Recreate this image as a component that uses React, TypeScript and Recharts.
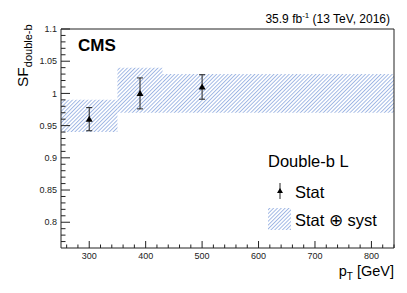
import { ComposedChart, XAxis, YAxis, Scatter, ErrorBar, ReferenceArea, ReferenceLine } from "recharts";

// pT bins with stat+syst bands
const binLow = [250, 350, 430];
const binHigh = [350, 430, 840];
const bandLow = [0.94, 0.97, 0.97];
const bandHigh = [0.99, 1.04, 1.03];

// measured SF points with stat errors
const ptX = [300, 390, 500];
const ptY = [0.96, 1.0, 1.01];
const ptErr = [0.018, 0.024, 0.019];

const xMajor = [300, 400, 500, 600, 700, 800];
const yMajor = [0.8, 0.85, 0.9, 0.95, 1, 1.05, 1.1];

const xTicks: number[] = [];
for (let v = 260; v <= 840; v += 20) xTicks.push(v);
const yTicks: number[] = [];
for (let i = 77; i <= 110; i++) yTicks.push(i / 100);

const points = ptX.map((x, i) => ({ x, y: ptY[i], err: ptErr[i] }));

const FONT = "'Liberation Sans', Arial, Helvetica, sans-serif";
const HATCH = "#98b1e2";
const INK = "#222";

function XTick(props: any) {
  const { x, y, payload } = props;
  const major = xMajor.includes(payload.value);
  return (
    <g>
      <line x1={x} x2={x} y1={y} y2={y - (major ? 7 : 3.5)} stroke={INK} strokeWidth={1} />
      {major && (
        <text x={x} y={y + 11} textAnchor="middle" fontSize={9} fill={INK} fontFamily={FONT}>
          {payload.value}
        </text>
      )}
    </g>
  );
}

function YTick(props: any) {
  const { x, y, payload } = props;
  const major = yMajor.some((m) => Math.abs(m - payload.value) < 1e-6);
  return (
    <g>
      <line x1={x} x2={x + (major ? 9 : 4.5)} y1={y} y2={y} stroke={INK} strokeWidth={1} />
      {major && (
        <text x={x - 4} y={y} dy="0.35em" textAnchor="end" fontSize={9} fill={INK} fontFamily={FONT}>
          {Math.round(payload.value * 100) / 100}
        </text>
      )}
    </g>
  );
}

function Triangle(props: any) {
  const { cx, cy } = props;
  return <polygon points={`${cx},${cy - 3.5} ${cx - 3.5},${cy + 2.5} ${cx + 3.5},${cy + 2.5}`} fill="#000" />;
}

export default function App() {
  return (
    <div style={{ position: "absolute", left: 0, top: 0, width: 407, height: 293, background: "#fff" }}>
      <ComposedChart width={407} height={293} margin={{ top: 29, right: 13, bottom: 0, left: 0 }}>
        <defs>
          <pattern id="hatch" width="2.7" height="2.7" patternUnits="userSpaceOnUse" patternTransform="rotate(45)">
            <line x1="0.5" y1="0" x2="0.5" y2="2.7" stroke={HATCH} strokeWidth={0.9} />
          </pattern>
        </defs>
        <XAxis
          dataKey="x"
          type="number"
          domain={[250, 840]}
          allowDataOverflow
          ticks={xTicks}
          interval={0}
          height={45}
          tickSize={0}
          tickMargin={0}
          tickLine={false}
          axisLine={{ stroke: INK }}
          tick={<XTick />}
        />
        <YAxis
          dataKey="y"
          type="number"
          domain={[0.76, 1.1]}
          allowDataOverflow
          ticks={yTicks}
          interval={0}
          width={61}
          tickSize={0}
          tickMargin={0}
          tickLine={false}
          axisLine={{ stroke: INK }}
          tick={<YTick />}
        />
        {binLow.map((lo, i) => (
          <ReferenceArea
            key={i}
            x1={lo}
            x2={binHigh[i]}
            y1={bandLow[i]}
            y2={bandHigh[i]}
            fill="url(#hatch)"
            fillOpacity={1}
            stroke="none"
          />
        ))}
        <ReferenceLine x={840} stroke={INK} strokeWidth={1} />
        <ReferenceLine y={1.1} stroke={INK} strokeWidth={1} />
        <Scatter data={points} dataKey="y" shape={<Triangle />} isAnimationActive={false}>
          <ErrorBar dataKey="err" direction="y" width={3} stroke={INK} strokeWidth={1} />
        </Scatter>
      </ComposedChart>
      <svg
        width={407}
        height={293}
        style={{ position: "absolute", left: 0, top: 0, pointerEvents: "none" }}
        fontFamily={FONT}
      >
        <defs>
          <pattern id="hatchLeg" width="2.7" height="2.7" patternUnits="userSpaceOnUse" patternTransform="rotate(45)">
            <line x1="0.5" y1="0" x2="0.5" y2="2.7" stroke={HATCH} strokeWidth={0.9} />
          </pattern>
        </defs>
        <text x={390} y={23} textAnchor="end" fontSize={12} fill="#000">
          35.9 fb<tspan fontSize={8} dy={-5}>-1</tspan>
          <tspan dy={5}> (13 TeV, 2016)</tspan>
        </text>
        <text x={78} y={51} fontSize={17} fontWeight="bold" fill="#000">
          CMS
        </text>
        <text transform="translate(28,87) rotate(-90)" fontSize={15.5} fill="#000">
          SF<tspan fontSize={11} dy={4}>double-b</tspan>
        </text>
        <text x={394} y={276} textAnchor="end" fontSize={14.5} fill="#000">
          p<tspan fontSize={10} dy={4}>T</tspan>
          <tspan dy={-4}> [GeV]</tspan>
        </text>
        <text x={268} y={167} fontSize={16.5} fill="#000">
          Double-b L
        </text>
        <line x1={280} x2={280} y1={183} y2={199} stroke={INK} strokeWidth={1} />
        <polygon points="280,188 277,193 283,193" fill="#000" />
        <text x={295} y={198} fontSize={16.5} fill="#000">
          Stat
        </text>
        <rect x={268} y={208} width={23} height={22} fill="url(#hatchLeg)" />
        <text x={295} y={226} fontSize={16.5} fill="#000">
          Stat ⊕ syst
        </text>
      </svg>
    </div>
  );
}
